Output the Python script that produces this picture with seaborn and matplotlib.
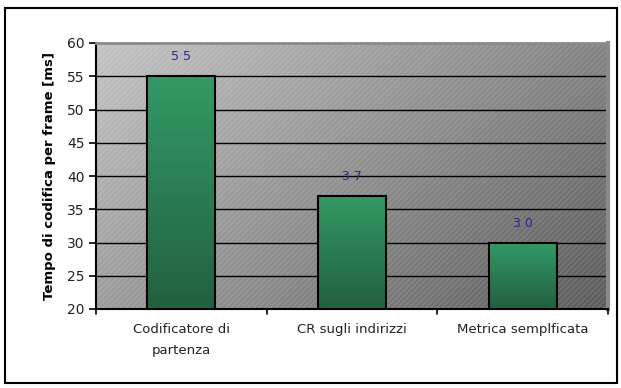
import numpy as np
import matplotlib
matplotlib.use("Agg")
import matplotlib.pyplot as plt
import seaborn as sns
from matplotlib.colors import LinearSegmentedColormap
from matplotlib.patches import Rectangle

categories = ["Codificatore di\npartenza", "CR sugli indirizzi", "Metrica semplficata"]
values = [55, 37, 30]
value_labels = ["5 5", "3 7", "3 0"]
y_ticks = [20, 25, 30, 35, 40, 45, 50, 55, 60]
y_label = "Tempo di codifica per frame [ms]"

sns.set_style("white")
plt.rcParams['font.family'] = ['DejaVu Sans']
plt.rcParams['hatch.linewidth'] = 0.6

fig = plt.figure(figsize=(6.21, 3.88), dpi=100)
ax = fig.add_axes([96/621, 1 - 309/388, (608 - 96)/621, (309 - 43)/388])

sns.barplot(x=categories, y=values, width=0.4, color="#2e8b57",
            edgecolor="black", linewidth=1.5, ax=ax, zorder=2)

ax.set_ylim(20, 60)
ax.set_xlim(-0.5, 2.5)
ax.set_yticks(y_ticks)
ax.set_yticklabels([str(t) for t in y_ticks], fontsize=10, color="#222222")

# background gradient
ax.patch.set_visible(False)
gx, gy = np.meshgrid(np.linspace(0, 1, 200), np.linspace(0, 1, 200))
grad = 0.62 * gx + 0.38 * (1 - gy)
bg_cmap = LinearSegmentedColormap.from_list("bg", ["#c4c4c4", "#5c5c5c"])
ax.imshow(grad, cmap=bg_cmap, extent=(0, 1, 1, 0), transform=ax.transAxes,
          aspect="auto", zorder=0.1, interpolation="bilinear")
ax.add_patch(Rectangle((0, 0), 1, 1, transform=ax.transAxes, facecolor="none",
                       edgecolor=(1, 1, 1, 0.18), linewidth=0, hatch="//////", zorder=0.2))

# grid lines
for t in y_ticks[1:-1]:
    ax.axhline(t, color="black", linewidth=1.0, zorder=0.5)

# bar gradients
bar_cmap = LinearSegmentedColormap.from_list("bar", ["#22603f", "#339966"])
for p in list(ax.patches):
    if p.get_width() > 0.9:
        continue
    x0 = p.get_x(); w = p.get_width(); h = p.get_height()
    if h <= 0:
        continue
    img = ax.imshow(np.linspace(0, 1, 100).reshape(-1, 1), cmap=bar_cmap, origin="lower",
                    extent=(x0, x0 + w, 20, h), aspect="auto", zorder=1.5,
                    interpolation="bilinear")
    img.set_clip_path(p)
    p.set_facecolor("none")
    p.set_zorder(2)

ax.set_xlim(-0.5, 2.5)
ax.set_ylim(20, 60)

# value labels
for i, (v, lab) in enumerate(zip(values, value_labels)):
    ax.annotate(lab, (i, v), xytext=(0, 14), textcoords="offset points",
                ha="center", va="center", fontsize=9, color="#2b2b8c", zorder=3)

# axes styling
ax.set_xticks([0, 1, 2])
ax.set_xticklabels(categories, fontsize=9.5, color="#222222", linespacing=1.8)
ax.tick_params(axis="x", length=0, pad=10)
for xb in [-0.5, 0.5, 1.5, 2.5]:
    ax.plot([xb, xb], [0, -0.02], transform=ax.get_xaxis_transform(), color="black",
            linewidth=1.2, clip_on=False, zorder=3)
ax.tick_params(axis="y", length=5, width=1.2, color="black", left=True, pad=3)
ax.set_ylabel(y_label, fontsize=9.5, fontweight="bold", color="black", labelpad=8)
ax.set_xlabel("")

ax.spines["left"].set_color("black"); ax.spines["left"].set_linewidth(1.5)
ax.spines["bottom"].set_color("black"); ax.spines["bottom"].set_linewidth(1.5)
ax.spines["top"].set_color("#8a8a8a"); ax.spines["top"].set_linewidth(2)
ax.spines["right"].set_color("#8a8a8a"); ax.spines["right"].set_linewidth(3)
for s in ax.spines.values():
    s.set_visible(True)

# outer frame
fig.patches.append(Rectangle((5/621, 1 - 383/388), 612/621, 375/388, transform=fig.transFigure,
                             facecolor="none", edgecolor="black", linewidth=1.5))

fig.savefig("out.png", dpi=100)
